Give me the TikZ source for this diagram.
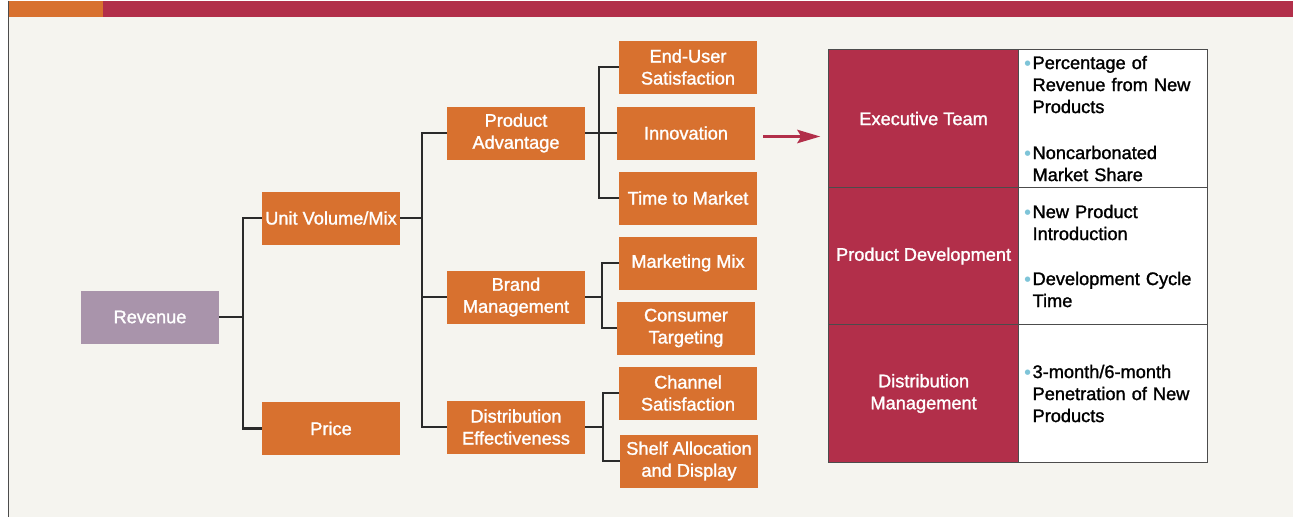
\documentclass[tikz,border=0pt]{standalone}
\usepackage{fontspec}
\setmainfont{Liberation Sans}[BoldFont={Liberation Sans}, BoldFeatures={FakeBold=1.4}]
\newfontfamily\dotfont{DejaVu Sans}
\usetikzlibrary{arrows.meta}
\definecolor{barorange}{HTML}{D8712F}
\definecolor{barred}{HTML}{B22F4A}
\definecolor{revmauve}{HTML}{A994AB}
\definecolor{paper}{HTML}{F5F4EF}
\definecolor{dotblue}{HTML}{7EC4D8}
\definecolor{linkgray}{HTML}{2A2A2A}
\newcommand{\kpidot}{\leavevmode\llap{\raisebox{4pt}{\textcolor{dotblue}{\dotfont\fontsize{7}{7}\selectfont ●}}\hspace{2pt}}}
\begin{document}
\begin{tikzpicture}[x=1pt,y=-1pt,
  box/.style={fill=barorange, text=white, minimum width=138pt, minimum height=53pt, inner sep=0pt, align=center},
  link/.style={draw=linkgray, line width=2.3pt},
  role/.style={fill=barred, text=white, minimum width=190pt, align=center},
  kpi/.style={fill=white, text width=161pt, inner xsep=14pt, align=left}]
\fontsize{18.2}{22}\selectfont\bfseries
% page, side rule and top bar
\fill[white] (0,0) rectangle (1293,516);
\fill[paper] (9,0) rectangle (1293,516);
\draw[black!70, line width=1pt] (8.5,0) -- (8.5,516);
\fill[barorange] (9,0) rectangle (103,16.5);
\fill[barred] (103,0) rectangle (1293,16.5);
% driver tree
\node[box, fill=revmauve] (rev) at (150,316.5) {Revenue};
\node[box] (uvm) at (331,217.5) {Unit Volume/Mix};
\node[box] (price) at (331,428) {Price};
\node[box] (pa) at (516,132.5) {Product\\Advantage};
\node[box] (bm) at (516,296.5) {Brand\\Management};
\node[box] (de) at (516,426.5) {Distribution\\Effectiveness};
\node[box] (eus) at (688,66.5) {End-User\\Satisfaction};
\node[box] (inno) at (686,132.5) {Innovation};
\node[box] (ttm) at (688,197.5) {Time to Market};
\node[box] (mm) at (688,262.5) {Marketing Mix};
\node[box] (ct) at (686,327.5) {Consumer\\Targeting};
\node[box] (cs) at (688,392.5) {Channel\\Satisfaction};
\node[box] (sad) at (689,460.5) {Shelf Allocation\\and Display};
\foreach \c in {uvm,price} \draw[link] (rev.east) -- ++(24,0) |- (\c.west);
\foreach \c in {pa,bm,de} \draw[link] (uvm.east) -- ++(22,0) |- (\c.west);
\foreach \c in {eus,inno,ttm} \draw[link] (pa.east) -- ++(14,0) |- (\c.west);
\foreach \c in {mm,ct} \draw[link] (bm.east) -- ++(17,0) |- (\c.west);
\foreach \c in {cs,sad} \draw[link] (de.east) -- ++(18,0) |- (\c.west);
% measures table
\matrix (tbl) [matrix anchor=north west, inner sep=0pt, row sep=-0.8pt, column sep=-0.8pt,
  nodes={draw=black!70, line width=0.8pt, minimum height=137.5pt}] at (828,48.7) {
  \node[role] (exec) {Executive Team};
 &\node[kpi] (execkpi) {\kpidot Percentage of\\Revenue from New\\Products\\[24pt]\kpidot Noncarbonated\\Market Share};\\
  \node[role] (pdev) {Product Development};
 &\node[kpi] (pdevkpi) {\kpidot New Product\\Introduction\\[23pt]\kpidot Development Cycle\\Time};\\
  \node[role] (dist) {Distribution\\Management};
 &\node[kpi] (distkpi) {\kpidot 3-month/6-month\\Penetration of New\\Products};\\
};
\coordinate (arrowtail) at ([shift={(8,3.5)}]inno.east);
\coordinate (arrowhead) at (arrowtail -| exec.west);
\draw[barred, line width=2.2pt, shorten >=8pt, -{Stealth[length=23pt,width=13.5pt,inset=4pt]}] (arrowtail) -- (arrowhead);
\end{tikzpicture}
\end{document}
